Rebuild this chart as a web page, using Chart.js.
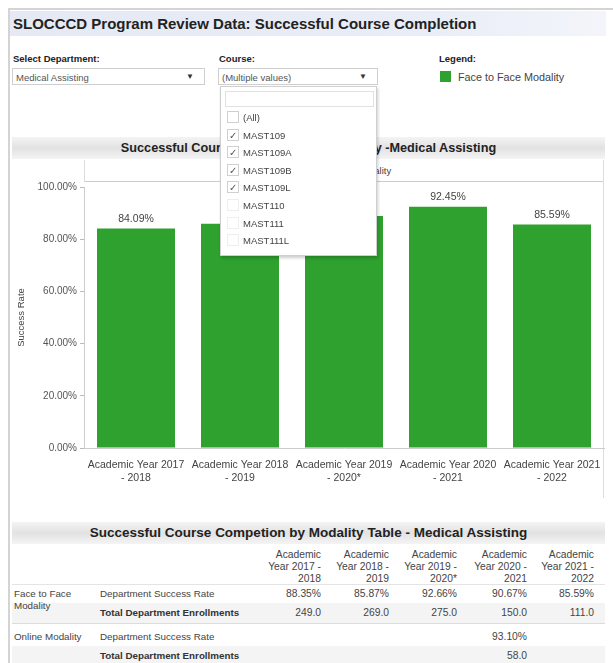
<!DOCTYPE html>
<html>
<head>
<meta charset="utf-8">
<script src="https://cdn.jsdelivr.net/npm/chart.js@4.4.1/dist/chart.umd.min.js"></script>
<style>
  body { margin: 0; width: 613px; height: 663px; position: relative; overflow: hidden; background: #fff;
         font-family: "Liberation Sans", Arial, sans-serif; color: #333; }
  .abs { position: absolute; }
  .frame-top { left: 8px; top: 8px; width: 605px; height: 2px; background: #d4d4d4; }
  .frame-left { left: 8px; top: 8px; width: 2px; height: 655px; background: #d4d4d4; }
  .banner { left: 10px; top: 11px; width: 596px; height: 25px;
            background: linear-gradient(90deg, #e4e9f4 0%, #e9edf7 70%, #f3f5fa 100%); }
  .banner span { position: absolute; left: 3px; top: 4px; font-size: 15px; font-weight: bold; color: #222; }
  .lbl { font-size: 9.5px; font-weight: bold; color: #222; }
  .dd { border: 1px solid #cfcfcf; height: 17px; background: #fff; font-size: 9.5px; color: #555; box-sizing: border-box; }
  .dd span { position: absolute; left: 3px; top: 3px; }
  .dd b { position: absolute; right: 10px; top: 3px; font-size: 8px; color: #333; }
  .gbanner { height: 22px; background: linear-gradient(180deg, #f4f4f4 0%, #e2e2e2 50%, #f4f4f4 100%);
             text-align: center; font-weight: bold; color: #222; line-height: 22px; }
  .list { left: 220px; top: 86px; width: 157px; height: 170px; background: #fff; border: 1px solid #cfcfcf;
          box-shadow: 1px 2px 3px rgba(0,0,0,0.2); z-index: 5; box-sizing: border-box; }
  .item { position: absolute; left: 6px; font-size: 9.5px; color: #444; height: 14px; }
  .item i { position: absolute; left: 0; top: 0; width: 12px; height: 12px; border: 1px solid #d0d0d0; box-sizing: border-box;
            font-style: normal; font-size: 10px; line-height: 11px; text-align: center; color: #555; }
  .item span { position: absolute; left: 16px; top: 1px; white-space: nowrap; }
  .tcell { position: absolute; font-size: 9.8px; color: #444; white-space: nowrap; }
</style>
</head>
<body>
<div class="abs frame-top"></div>
<div class="abs frame-left"></div>
<div class="abs banner"><span>SLOCCCD Program Review Data: Successful Course Completion</span></div>

<div class="abs lbl" style="left:13px;top:53px;">Select Department:</div>
<div class="abs dd" style="left:12px;top:68px;width:193px;"><span>Medical Assisting</span><b>▼</b></div>
<div class="abs lbl" style="left:219px;top:53px;">Course:</div>
<div class="abs dd" style="left:218px;top:68px;width:160px;"><span>(Multiple values)</span><b>▼</b></div>
<div class="abs lbl" style="left:439px;top:53px;">Legend:</div>
<div class="abs" style="left:440px;top:71px;width:11px;height:11px;background:#2ea12e;"></div>
<div class="abs" style="left:458px;top:71px;font-size:10.8px;color:#444;">Face to Face Modality</div>

<div class="abs list" id="courseList">
  <div class="abs" style="left:4px;top:4px;width:147px;height:14px;border:1px solid #e2e2e2;"></div>
</div>

<div class="abs gbanner" style="left:12px;top:137px;width:593px;font-size:12.7px;">Successful Course Completion by Modality -Medical Assisting</div>
<div class="abs" style="left:84px;top:160px;width:519px;height:21px;border-left:1px solid #ddd;border-bottom:1px solid #ccc;font-size:9.5px;color:#444;text-align:center;line-height:21px;">Face to Face Modality</div>
<div class="abs" style="left:603px;top:160px;width:1px;height:338px;background:#ddd;"></div>

<div class="abs" style="left:12px;top:178px;width:593px;height:322px;">
  <canvas id="barChart" width="593" height="322"></canvas>
</div>

<div class="abs gbanner" style="left:12px;top:522px;width:593px;font-size:13.5px;">Successful Course Competion by Modality Table - Medical Assisting</div>
<div id="table"></div>

<script>
// Bar chart data (course filter applied)
const categories = [
  ["Academic Year 2017", "- 2018"],
  ["Academic Year 2018", "- 2019"],
  ["Academic Year 2019", "- 2020*"],
  ["Academic Year 2020", "- 2021"],
  ["Academic Year 2021", "- 2022"]
];
const successRate = [84.09, 85.9, 88.9, 92.45, 85.59];
const yTicks = [0, 20, 40, 60, 80, 100];

// Course filter list
const courses = ["(All)", "MAST109", "MAST109A", "MAST109B", "MAST109L", "MAST110", "MAST111", "MAST111L"];
const courseChecked = [false, true, true, true, true, false, false, false];

// Table data
const tableYears = [
  ["Academic", "Year 2017 -", "2018"],
  ["Academic", "Year 2018 -", "2019"],
  ["Academic", "Year 2019 -", "2020*"],
  ["Academic", "Year 2020 -", "2021"],
  ["Academic", "Year 2021 -", "2022"]
];
const f2fSuccess = [88.35, 85.87, 92.66, 90.67, 85.59];
const f2fEnroll = [249, 269, 275, 150, 111];
const onlineSuccess = [null, null, null, 93.10, null];
const onlineEnroll = [null, null, null, 58, null];

// dropdown items
const list = document.getElementById("courseList");
courses.forEach((c, i) => {
  const d = document.createElement("div");
  d.className = "item";
  d.style.top = (24 + i * 17.6) + "px";
  d.innerHTML = "<i" + (i >= 5 ? " style='border-color:#eee'" : "") + ">" + (courseChecked[i] ? "✓" : "") + "</i><span>" + c + "</span>";
  list.appendChild(d);
});

// value labels above bars
const barLabels = {
  id: "barLabels",
  afterDatasetsDraw(chart) {
    const ctx = chart.ctx;
    ctx.save();
    ctx.font = "10.5px 'Liberation Sans', Arial";
    ctx.fillStyle = "#444";
    ctx.textAlign = "center";
    ctx.textBaseline = "bottom";
    chart.getDatasetMeta(0).data.forEach((bar, i) => {
      ctx.fillText(successRate[i].toFixed(2) + "%", bar.x, bar.y - 4);
    });
    ctx.restore();
  }
};

const font = { size: 10.5, family: "'Liberation Sans', Arial" };

new Chart(document.getElementById("barChart"), {
  type: "bar",
  data: {
    labels: categories,
    datasets: [{
      label: "Face to Face Modality",
      data: successRate,
      backgroundColor: "#2ea12e",
      barPercentage: 0.75,
      categoryPercentage: 1
    }]
  },
  options: {
    responsive: false,
    animation: false,
    devicePixelRatio: 1,
    layout: { padding: { top: 8, right: 1 } },
    plugins: { legend: { display: false }, tooltip: { enabled: false } },
    scales: {
      x: {
        grid: { display: false },
        border: { color: "#ccc" },
        ticks: { color: "#444", font: font, maxRotation: 0, padding: 3 },
        afterFit: s => { s.height = 52; }
      },
      y: {
        min: 0, max: 100,
        afterBuildTicks: s => { s.ticks = yTicks.map(v => ({ value: v })); },
        ticks: { color: "#555", font: { size: 10, family: "'Liberation Sans', Arial" }, padding: 3,
                 callback: v => v.toFixed(2) + "%" },
        grid: { drawOnChartArea: false, tickLength: 4, tickColor: "#bbb" },
        border: { color: "#ccc" },
        title: { display: true, text: "Success Rate", color: "#444", font: { size: 9.5, family: "'Liberation Sans', Arial" } },
        afterFit: s => { s.width = 72; }
      }
    }
  },
  plugins: [barLabels]
});

// table
const table = document.getElementById("table");
const colRight = [321, 389, 457, 527, 594];
function cell(text, x, y, align, extra) {
  const d = document.createElement("div");
  d.className = "tcell";
  d.textContent = text;
  d.style.top = y + "px";
  if (align === "right") d.style.right = (613 - x) + "px"; else d.style.left = x + "px";
  if (extra) Object.assign(d.style, extra);
  table.appendChild(d);
}
function band(y, h, col) {
  const d = document.createElement("div");
  d.className = "abs";
  Object.assign(d.style, { left: "12px", top: y + "px", width: "593px", height: h + "px", background: col });
  table.appendChild(d);
}
band(584, 1, "#e4e4e4");
band(603, 20, "#f4f4f4");
band(623, 1, "#dcdcdc");
band(646, 17, "#f4f4f4");
tableYears.forEach((lines, j) => {
  lines.forEach((t, k) => cell(t, colRight[j], 549 + k * 12, "right", { fontSize: "10.3px" }));
});
cell("Face to Face", 14, 588, "left");
cell("Modality", 14, 600, "left");
cell("Online Modality", 14, 631, "left");
cell("Department Success Rate", 100, 588, "left");
cell("Total Department Enrollments", 100, 607, "left", { color: "#333", fontWeight: "bold" });
cell("Department Success Rate", 100, 631, "left");
cell("Total Department Enrollments", 100, 650, "left", { color: "#333", fontWeight: "bold" });
f2fSuccess.forEach((v, j) => cell(v.toFixed(2) + "%", colRight[j], 588, "right", { fontSize: "10.3px" }));
f2fEnroll.forEach((v, j) => cell(v.toFixed(1), colRight[j], 607, "right", { fontSize: "10.3px" }));
onlineSuccess.forEach((v, j) => { if (v !== null) cell(v.toFixed(2) + "%", colRight[j], 631, "right", { fontSize: "10.3px" }); });
onlineEnroll.forEach((v, j) => { if (v !== null) cell(v.toFixed(1), colRight[j], 650, "right", { fontSize: "10.3px" }); });
</script>
</body>
</html>
